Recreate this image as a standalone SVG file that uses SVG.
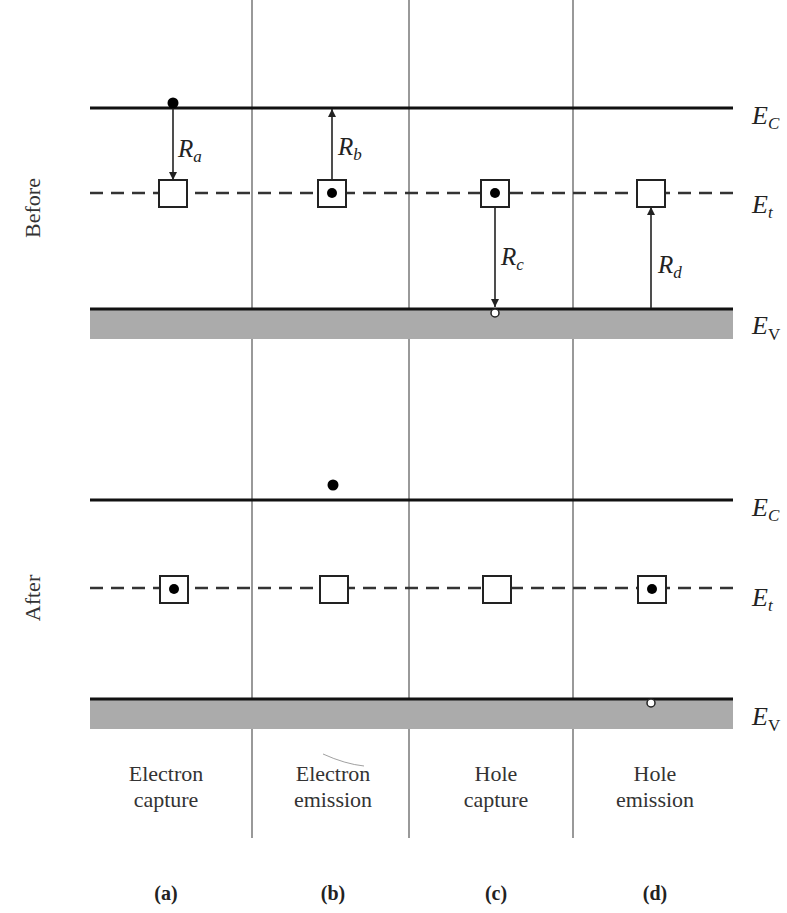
<svg xmlns="http://www.w3.org/2000/svg" width="787" height="913" viewBox="0 0 787 913">
<style>
.div{stroke:#555;stroke-width:1.2}
.ec{stroke:#111;stroke-width:3}
.et{stroke:#333;stroke-width:2.5;stroke-dasharray:13 8}
.band{fill:#ababab}
.trap{fill:#fff;stroke:#222;stroke-width:2}
.e{fill:#000}
.h{fill:#fff;stroke:#222;stroke-width:1.5}
.arr{stroke:#222;stroke-width:1.6;fill:none}
text{font-family:'Liberation Serif','DejaVu Serif',serif}
.lab{font-style:italic;font-size:26px;fill:#222}
.rl{font-style:italic;font-size:25px;fill:#222}
.sub{font-size:17px}
.t{font-size:22px;fill:#333;text-anchor:middle}
.b{font-size:20px;font-weight:bold;fill:#222;text-anchor:middle}
</style>
<defs>
<marker id="ah" viewBox="0 0 10 10" refX="10" refY="5" markerWidth="12" markerHeight="8" orient="auto" markerUnits="userSpaceOnUse"><path d="M0,0 L10,5 L0,10 z" fill="#222"/></marker>
</defs>
<rect width="787" height="913" fill="#fff"/>
<g id="dividers">
<line class="div" x1="252" y1="0" x2="252" y2="838"/>
<line class="div" x1="409" y1="0" x2="409" y2="838"/>
<line class="div" x1="573" y1="0" x2="573" y2="838"/>
</g>
<g id="before-levels">
<line class="ec" x1="90" y1="108" x2="733" y2="108"/>
<line class="et" x1="90" y1="193" x2="733" y2="193"/>
<rect class="band" x="90" y="308" width="643" height="31"/>
<line class="ec" x1="90" y1="309" x2="733" y2="309"/>
</g>
<g id="after-levels">
<line class="ec" x1="90" y1="500" x2="733" y2="500"/>
<line class="et" x1="90" y1="588" x2="733" y2="588"/>
<rect class="band" x="90" y="698" width="643" height="31"/>
<line class="ec" x1="90" y1="699" x2="733" y2="699"/>
</g>
<g id="connectors">
<line class="arr" x1="173" y1="108" x2="173" y2="180" marker-end="url(#ah)"/>
<line class="arr" x1="332" y1="180" x2="332" y2="109" marker-end="url(#ah)"/>
<line class="arr" x1="495" y1="206" x2="495" y2="307" marker-end="url(#ah)"/>
<line class="arr" x1="651" y1="308" x2="651" y2="207" marker-end="url(#ah)"/>
</g>
<g id="trap-a-before"><rect class="trap" x="159" y="180" width="28" height="27"/></g>
<g id="trap-b-before"><rect class="trap" x="318" y="180" width="28" height="27"/><circle class="e" cx="332" cy="193" r="5"/></g>
<g id="trap-c-before"><rect class="trap" x="481" y="180" width="28" height="27"/><circle class="e" cx="495" cy="193" r="5"/></g>
<g id="trap-d-before"><rect class="trap" x="637" y="180" width="28" height="27"/></g>
<g id="electron-a-before"><circle class="e" cx="173" cy="103" r="5.5"/></g>
<g id="hole-c-before"><circle class="h" cx="495" cy="313" r="4"/></g>
<g id="trap-a-after"><rect class="trap" x="160" y="576" width="28" height="27"/><circle class="e" cx="174" cy="589" r="5"/></g>
<g id="trap-b-after"><rect class="trap" x="320" y="576" width="28" height="27"/></g>
<g id="trap-c-after"><rect class="trap" x="483" y="576" width="28" height="27"/></g>
<g id="trap-d-after"><rect class="trap" x="638" y="576" width="28" height="27"/><circle class="e" cx="652" cy="589" r="5"/></g>
<g id="electron-b-after"><circle class="e" cx="333" cy="485" r="5.5"/></g>
<g id="hole-d-after"><circle class="h" cx="651" cy="703" r="4"/></g>
<g id="rate-labels">
<text class="rl" x="178" y="157">R<tspan class="sub" dy="5">a</tspan></text>
<text class="rl" x="338" y="155">R<tspan class="sub" dy="5">b</tspan></text>
<text class="rl" x="501" y="265">R<tspan class="sub" dy="5">c</tspan></text>
<text class="rl" x="658" y="273">R<tspan class="sub" dy="5">d</tspan></text>
</g>
<g id="level-labels">
<text class="lab" x="752" y="124">E<tspan class="sub" dy="5">C</tspan></text>
<text class="lab" x="752" y="213">E<tspan class="sub" dy="5">t</tspan></text>
<text class="lab" x="752" y="334">E<tspan class="sub" dy="6" font-style="normal">V</tspan></text>
<text class="lab" x="752" y="516">E<tspan class="sub" dy="5">C</tspan></text>
<text class="lab" x="752" y="606">E<tspan class="sub" dy="5">t</tspan></text>
<text class="lab" x="752" y="725">E<tspan class="sub" dy="6" font-style="normal">V</tspan></text>
</g>
<g id="side-labels">
<text class="t" font-size="23" transform="translate(40,208) rotate(-90)">Before</text>
<text class="t" font-size="23" transform="translate(40,598) rotate(-90)">After</text>
</g>
<g id="captions">
<text class="t" x="166" y="781">Electron</text>
<text class="t" x="166" y="807">capture</text>
<text class="t" x="333" y="781">Electron</text>
<text class="t" x="333" y="807">emission</text>
<text class="t" x="496" y="781">Hole</text>
<text class="t" x="496" y="807">capture</text>
<text class="t" x="655" y="781">Hole</text>
<text class="t" x="655" y="807">emission</text>
<text class="b" x="166" y="900">(a)</text>
<text class="b" x="333" y="900">(b)</text>
<text class="b" x="496" y="900">(c)</text>
<text class="b" x="655" y="900">(d)</text>
</g>
<path d="M323,754 Q345,764 364,766" stroke="#888" stroke-width="0.8" fill="none"/>
</svg>
